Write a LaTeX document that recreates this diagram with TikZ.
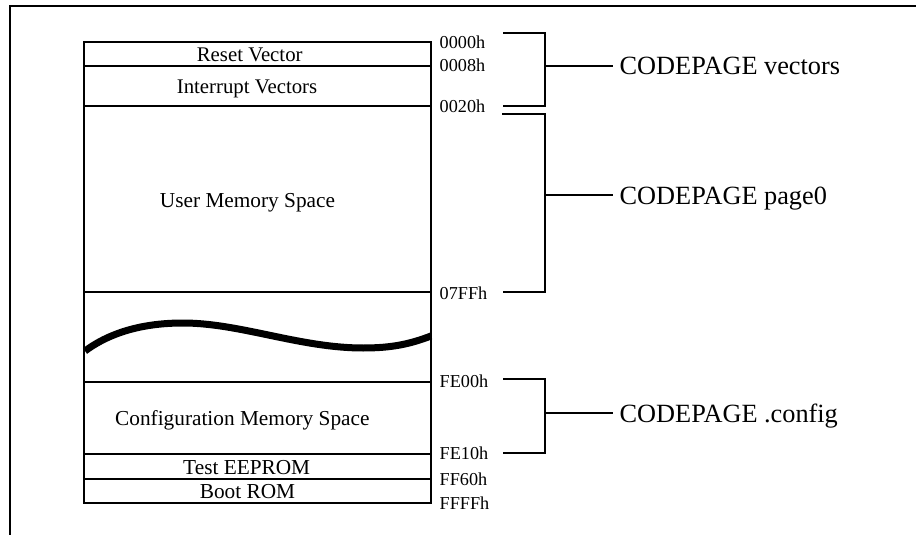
\documentclass[tikz,border=0pt]{standalone}
\usepackage{fontspec}
\setmainfont{Liberation Serif}
\begin{document}
\begin{tikzpicture}[x=1pt,y=-1pt,
  line/.style={draw=black,line width=1.5pt,line join=miter},
  framed/.style={draw=black,line width=1.6pt},
  band/.style={line,fill=none},
  bandtext/.style={font=\fontsize{20.8}{24}\selectfont,anchor=base,inner sep=0pt,text=black},
  bandbig/.style={font=\fontsize{21.3}{24}\selectfont,anchor=base,inner sep=0pt,text=black},
  addr/.style={font=\fontsize{18.2}{22}\selectfont,anchor=base west,inner sep=0pt,text=black},
  seglabel/.style={font=\fontsize{26.3}{30}\selectfont,anchor=base west,inner sep=0pt,text=black}]
\useasboundingbox (0,0) rectangle (916,535);
% page frame
\coordinate (fbl) at (10,535);
\coordinate (ftl) at (10,6);
\coordinate (ftr) at (916,6);
\draw[framed] (fbl) -- (ftl) -- (ftr);
% memory stack
\coordinate (a0) at (84,42);
\coordinate (b0) at (431,42);
\coordinate (a1) at (84,66);
\coordinate (b1) at (431,66);
\coordinate (a2) at (84,106);
\coordinate (b2) at (431,106);
\coordinate (a3) at (84,292);
\coordinate (b3) at (431,292);
\coordinate (a4) at (84,382);
\coordinate (b4) at (431,382);
\coordinate (a5) at (84,454);
\coordinate (b5) at (431,454);
\coordinate (a6) at (84,479);
\coordinate (b6) at (431,479);
\coordinate (a7) at (84,503);
\coordinate (b7) at (431,503);
\draw[band] (a0) -- (b0) -- (b7) -- (a7) -- cycle;
\draw[line] (a1) -- (b1);
\draw[line] (a2) -- (b2);
\draw[line] (a3) -- (b3);
\draw[line] (a4) -- (b4);
\draw[line] (a5) -- (b5);
\draw[line] (a6) -- (b6);
% break wave
\draw[line width=7pt,black] (85,351) .. controls (112,331) and (146,323) .. (183,323)
  .. controls (240,323) and (300,348) .. (363,348)
  .. controls (392,348) and (410,344) .. (431,336);
% band labels
\node[bandtext] (reset) at (249.7,62) {Reset Vector};
\node[bandtext] (intr) at (247,94) {Interrupt Vectors};
\node[bandbig] (user) at (247.5,207) {User Memory Space};
\node[bandbig,anchor=base west] (conf) at (115,425) {Configuration Memory Space};
\node[bandbig] (test) at (246.7,474) {Test EEPROM};
\node[bandbig] (boot) at (247.5,498) {Boot ROM};
% addresses
\node[addr] (A0) at (439.5,49) {0000h};
\node[addr] (A1) at (439.5,72) {0008h};
\node[addr] (A2) at (439.5,113) {0020h};
\node[addr] (A3) at (439.5,299) {07FFh};
\node[addr] (A4) at (439.5,387) {FE00h};
\node[addr] (A5) at (439.5,459) {FE10h};
\node[addr] (A6) at (439.5,485) {FF60h};
\node[addr] (A7) at (439.5,509) {FFFFh};
% segment labels
\node[seglabel] (L1) at (619.5,74.5) {CODEPAGE vectors};
\node[seglabel] (L2) at (619.5,204) {CODEPAGE page0};
\node[seglabel] (L3) at (619.5,422) {CODEPAGE .config};
% brackets
\coordinate (p1) at (503,33);
\coordinate (p2) at (545,33);
\coordinate (p3) at (545,106);
\coordinate (p4) at (503,106);
\coordinate (p5) at (545,66);
\coordinate (e1) at (613,66);
\draw[line] (p1) -- (p2) -- (p3) -- (p4);
\draw[line] (p5) -- (e1);
\coordinate (q1) at (502,114);
\coordinate (q2) at (545,114);
\coordinate (q3) at (545,292);
\coordinate (q4) at (503,292);
\coordinate (q5) at (545,195);
\coordinate (e2) at (613,195);
\draw[line] (q1) -- (q2) -- (q3) -- (q4);
\draw[line] (q5) -- (e2);
\coordinate (r1) at (503,379);
\coordinate (r2) at (545,379);
\coordinate (r3) at (545,453);
\coordinate (r4) at (503,453);
\coordinate (r5) at (545,413);
\coordinate (e3) at (613,413);
\draw[line] (r1) -- (r2) -- (r3) -- (r4);
\draw[line] (r5) -- (e3);
\end{tikzpicture}
\end{document}
